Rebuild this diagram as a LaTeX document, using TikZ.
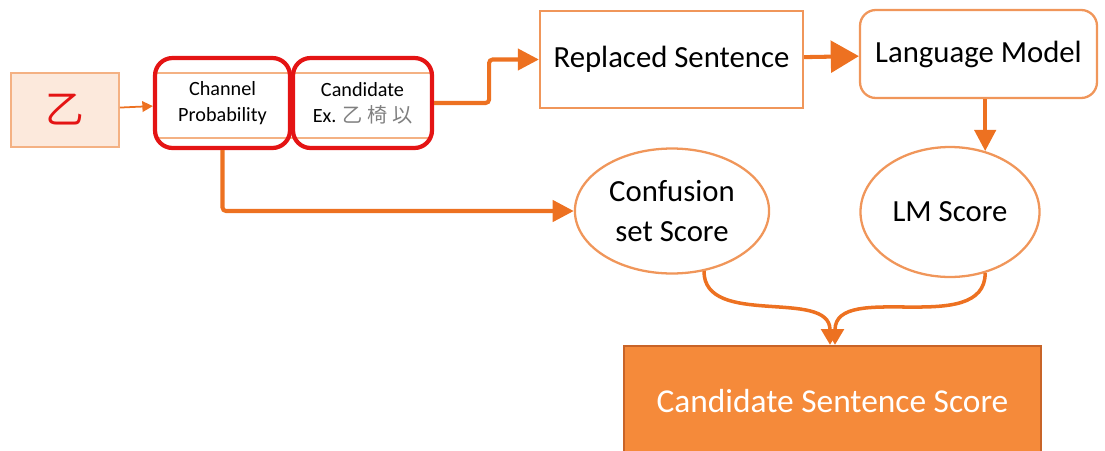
\documentclass[tikz,border=0pt]{standalone}
\usepackage{fontspec}
\setmainfont{Carlito}
\newfontfamily\zhfont{Noto Sans CJK TC}
\definecolor{myorange}{RGB}{237,113,33}
\definecolor{lightorange}{RGB}{240,150,90}
\definecolor{peach}{RGB}{252,233,220}
\definecolor{peachline}{RGB}{244,177,131}
\definecolor{myred}{RGB}{228,20,20}
\definecolor{scorefill}{RGB}{245,138,58}
\definecolor{scoreline}{RGB}{200,100,40}
\usetikzlibrary{positioning, arrows.meta, shapes, calc}
\tikzset{
    block/.style={
           rectangle,
           draw=lightorange, line width=1.3pt,
           fill=white,
           inner sep=2pt,
           text centered,
           font=\fontsize{17.5}{21}\selectfont,
           },
    redbox/.style={
           rectangle,
           rounded corners=10pt,
           draw=myred, line width=2.4pt,
           minimum width=2.7cm, minimum height=1.8cm,
           align=center,
           font=\fontsize{11.5}{15}\selectfont,
           },
    blob/.style={
           ellipse,
           draw=lightorange, line width=1.3pt,
           align=center,
           font=\fontsize{17.5}{23}\selectfont,
           },
}
\newcommand{\zh}[1]{{\zhfont #1}}

\begin{document}
\begin{tikzpicture}[x=0.02cm, y=-0.02cm, semithick,
    flow/.style={-{Triangle[length=12pt,width=12pt]}, draw=myorange, line width=2.3pt}]
  \useasboundingbox (0,0) rectangle (1105,450);
  \node[block, draw=peachline, fill=peach, line width=1pt, minimum width=2.16cm, minimum height=1.48cm,
        text=myred, font=\fontsize{22}{24}\selectfont] (IN) at (65, 110) {\zh{乙}};
  \node[rectangle, draw=peachline, line width=0.8pt, minimum width=5.5cm, minimum height=1.3cm] (band) at (293.5, 105.5) {};
  \node[redbox]                              (CP) at (222.5, 103) {Channel\\Probability};
  \node[redbox, minimum width=2.78cm]        (CA) at (362.5, 103) {Candidate\\Ex. \textcolor{gray}{\zh{乙 椅 以}}};
  \node[block, minimum width=5.26cm, minimum height=1.94cm]                   (RS) at (671.5, 59.5) {Replaced Sentence};
  \node[block, rounded corners=9pt, minimum width=4.74cm, minimum height=1.76cm] (LM) at (978.5, 54)   {Language Model};
  \node[blob, minimum width=3.7cm,  minimum height=2.5cm]  (CS) at (672, 211) {Confusion\\set Score};
  \node[blob, minimum width=3.56cm, minimum height=2.6cm]  (LS) at (950, 212) {LM Score};
  \node[rectangle, draw=scoreline, fill=scorefill, line width=1.3pt, text=white,
        minimum width=8.34cm, minimum height=2.2cm, font=\fontsize{19}{23}\selectfont] (SC) at (832.5, 401) {Candidate Sentence Score};
  \draw[-{Triangle[length=6pt,width=6pt]}, draw=myorange, line width=1pt] (IN) -- (CP);
  \draw[flow, rounded corners=2pt] (CA.east) -- ++(55,0) |- (RS.west);
  \draw[flow, -{Triangle[length=16pt,width=18pt]}] (RS) -- (LM);
  \draw[flow] (LS.60 |- LM.south) -- (LS.60);
  \draw[flow, rounded corners=2pt] (CP.south) |- (CS.west);
  \draw[flow, line width=2pt, -{Triangle[length=9pt,width=10pt]}] (CS.-62) to[out=-90, in=90] ([xshift=-0.05cm]SC.north);
  \draw[flow, line width=2pt, -{Triangle[length=9pt,width=10pt]}] (LS.-60) to[out=-90, in=90] ([xshift=0.05cm]SC.north);
\end{tikzpicture}
\end{document}
